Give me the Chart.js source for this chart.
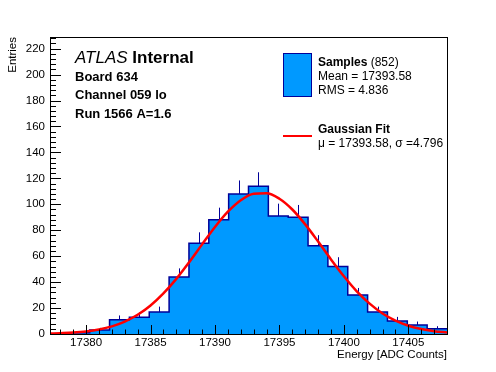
<!DOCTYPE html>
<html>
<head>
<meta charset="utf-8">
<script src="https://cdn.jsdelivr.net/npm/chart.js@4/dist/chart.umd.min.js"></script>
<style>
  html, body { margin: 0; padding: 0; background: #fff; }
  canvas { display: block; }
</style>
</head>
<body>
<canvas id="histChart" width="496" height="372"></canvas>
<script>
/* ===================== DATA ===================== */

// histogram: 20 bins from binStart, each binWidth wide
const binStart = 17377.2;
const binWidth = 1.54;
const binCounts = [0, 1, 3, 11, 13, 17, 44, 70, 88, 108, 114, 91, 90, 68, 52, 30, 17, 10, 7, 4];
const binErrors = [0, 1, 1.7, 3.3, 3.6, 4.1, 6.6, 8.4, 9.4, 10.4, 10.7, 9.5, 9.5, 8.2, 7.2, 5.5, 4.1, 3.2, 2.6, 2];

// gaussian fit curve
const fitX = [17377.2, 17378, 17379, 17380, 17381, 17382, 17383, 17384, 17385, 17386, 17387,
              17388, 17389, 17390, 17391, 17392, 17393, 17394, 17395, 17396, 17397, 17398,
              17399, 17400, 17401, 17402, 17403, 17404, 17405, 17406, 17407, 17408];
const fitY = [0.3, 0.6, 1.1, 2.0, 3.5, 5.9, 9.6, 14.8, 22.0, 31.3, 42.5,
              55.4, 69.1, 82.5, 94.3, 103.2, 108.2, 108.6, 104.3, 96.0, 84.5, 71.3,
              57.5, 44.5, 32.9, 23.4, 15.8, 10.3, 6.4, 3.8, 2.2, 1.2];

const xTicks = [17380, 17385, 17390, 17395, 17400, 17405];
const yTicks = [0, 20, 40, 60, 80, 100, 120, 140, 160, 180, 200, 220];
const xMin = 17377.2, xMax = 17408;
const yMax = 229;

const headerLines = ["Board 634", "Channel 059 lo", "Run 1566 A=1.6"];
const sampleStats = ["Mean = 17393.58", "RMS = 4.836"];
const fitText = "\u03bc = 17393.58, \u03c3 =4.796";

/* ===================== STYLE ===================== */

const FONT = "'Liberation Sans', Arial, Helvetica, sans-serif";
const FILL = "#0099ff";
const EDGE = "#000099";

/* ===================== HELPERS ===================== */

const histPoints = binCounts.map((c, i) => ({ x: binStart + i * binWidth, y: c }));
histPoints.push({ x: binStart + binCounts.length * binWidth, y: binCounts[binCounts.length - 1] });

const fitPoints = fitX.map((x, i) => ({ x: x, y: fitY[i] }));

// error bars on top of each bin (histogram is dataset 1)
const errorBars = {
  id: "errorBars",
  afterDatasetDraw(chart, args) {
    if (args.index !== 1) return;
    const { ctx, scales: { x, y } } = chart;
    ctx.save();
    ctx.strokeStyle = EDGE;
    ctx.lineWidth = 1;
    binCounts.forEach((c, i) => {
      if (!c) return;
      const px = Math.round(x.getPixelForValue(binStart + (i + 0.5) * binWidth)) + 0.5;
      ctx.beginPath();
      ctx.moveTo(px, y.getPixelForValue(c));
      ctx.lineTo(px, y.getPixelForValue(c + binErrors[i]));
      ctx.stroke();
    });
    ctx.restore();
  }
};

// ROOT style frame, inside ticks and the text boxes
const frameAndText = {
  id: "frameAndText",
  afterDraw(chart) {
    const { ctx, chartArea: a, scales: { x, y } } = chart;
    ctx.save();

    // ticks
    ctx.strokeStyle = "#000";
    ctx.lineWidth = 1;
    ctx.beginPath();
    for (let v = 17378; v <= 17407; v++) {
      const px = Math.round(x.getPixelForValue(v)) + 0.5;
      const len = v % 5 === 0 ? 9 : 4.5;
      ctx.moveTo(px, a.bottom);
      ctx.lineTo(px, a.bottom - len);
    }
    for (let v = 0; v <= 228; v += 4) {
      const py = Math.round(y.getPixelForValue(v)) + 0.5;
      const len = v % 20 === 0 ? 11 : 6;
      ctx.moveTo(a.left, py);
      ctx.lineTo(a.left + len, py);
    }
    ctx.stroke();

    // frame
    ctx.strokeRect(Math.round(a.left) + 0.5, Math.round(a.top) + 0.5,
                   Math.round(a.right - a.left), Math.round(a.bottom - a.top));

    // header text
    ctx.fillStyle = "#000";
    ctx.textBaseline = "alphabetic";
    ctx.textAlign = "left";
    ctx.font = "italic 17px " + FONT;
    ctx.fillText("ATLAS", 75, 63);
    const w = ctx.measureText("ATLAS ").width;
    ctx.font = "bold 17px " + FONT;
    ctx.fillText("Internal", 75 + w, 63);
    ctx.font = "bold 13px " + FONT;
    headerLines.forEach((t, i) => ctx.fillText(t, 75, 81 + i * 18.3));

    // legend: samples
    ctx.fillStyle = FILL;
    ctx.fillRect(283.5, 53.5, 28, 43);
    ctx.strokeStyle = EDGE;
    ctx.strokeRect(283.5, 53.5, 28, 43);
    ctx.fillStyle = "#000";
    ctx.font = "bold 12px " + FONT;
    ctx.fillText("Samples", 318, 66);
    const sw = ctx.measureText("Samples").width;
    ctx.font = "12px " + FONT;
    ctx.fillText(" (852)", 318 + sw, 66);
    sampleStats.forEach((t, i) => ctx.fillText(t, 318, 80 + i * 14.3));

    // legend: fit
    ctx.strokeStyle = "#ff0000";
    ctx.lineWidth = 2;
    ctx.beginPath();
    ctx.moveTo(283, 136);
    ctx.lineTo(312, 136);
    ctx.stroke();
    ctx.font = "bold 12px " + FONT;
    ctx.fillText("Gaussian Fit", 318, 133);
    ctx.font = "12px " + FONT;
    ctx.fillText(fitText, 318, 146.5);

    ctx.restore();
  }
};

/* ===================== CHART ===================== */

new Chart(document.getElementById("histChart"), {
  type: "line",
  data: {
    datasets: [
      {
        label: "Gaussian Fit",
        data: fitPoints,
        borderColor: "#ff0000",
        borderWidth: 2.5,
        pointRadius: 0,
        cubicInterpolationMode: "monotone",
        fill: false
      },
      {
        label: "Samples",
        data: histPoints,
        stepped: true,
        borderColor: EDGE,
        borderWidth: 1.5,
        backgroundColor: FILL,
        pointRadius: 0,
        fill: "origin"
      }
    ]
  },
  options: {
    responsive: false,
    animation: false,
    layout: { padding: { top: 37, right: 49, left: 0, bottom: 0 } },
    plugins: { legend: { display: false }, tooltip: { enabled: false } },
    scales: {
      x: {
        type: "linear",
        min: xMin,
        max: xMax,
        afterBuildTicks: s => { s.ticks = xTicks.map(v => ({ value: v })); },
        afterFit: s => { s.height = 38; },
        grid: { display: false, drawTicks: false },
        border: { display: false },
        ticks: {
          color: "#000",
          font: { family: FONT, size: 11.5 },
          padding: 2,
          maxRotation: 0,
          callback: v => String(v)
        },
        title: {
          display: true,
          text: "Energy [ADC Counts]",
          align: "end",
          color: "#000",
          font: { family: FONT, size: 11.5 },
          padding: { top: 0, bottom: 10 }
        }
      },
      y: {
        min: 0,
        max: yMax,
        afterBuildTicks: s => { s.ticks = yTicks.map(v => ({ value: v })); },
        afterFit: s => { s.width = 50; },
        grid: { display: false, drawTicks: false },
        border: { display: false },
        ticks: {
          color: "#000",
          font: { family: FONT, size: 11.5 },
          padding: 5,
          callback: v => String(v)
        },
        title: {
          display: true,
          text: "Entries",
          align: "end",
          color: "#000",
          font: { family: FONT, size: 11.5 },
          padding: { top: 6, bottom: 0 }
        }
      }
    }
  },
  plugins: [errorBars, frameAndText]
});
</script>
</body>
</html>
